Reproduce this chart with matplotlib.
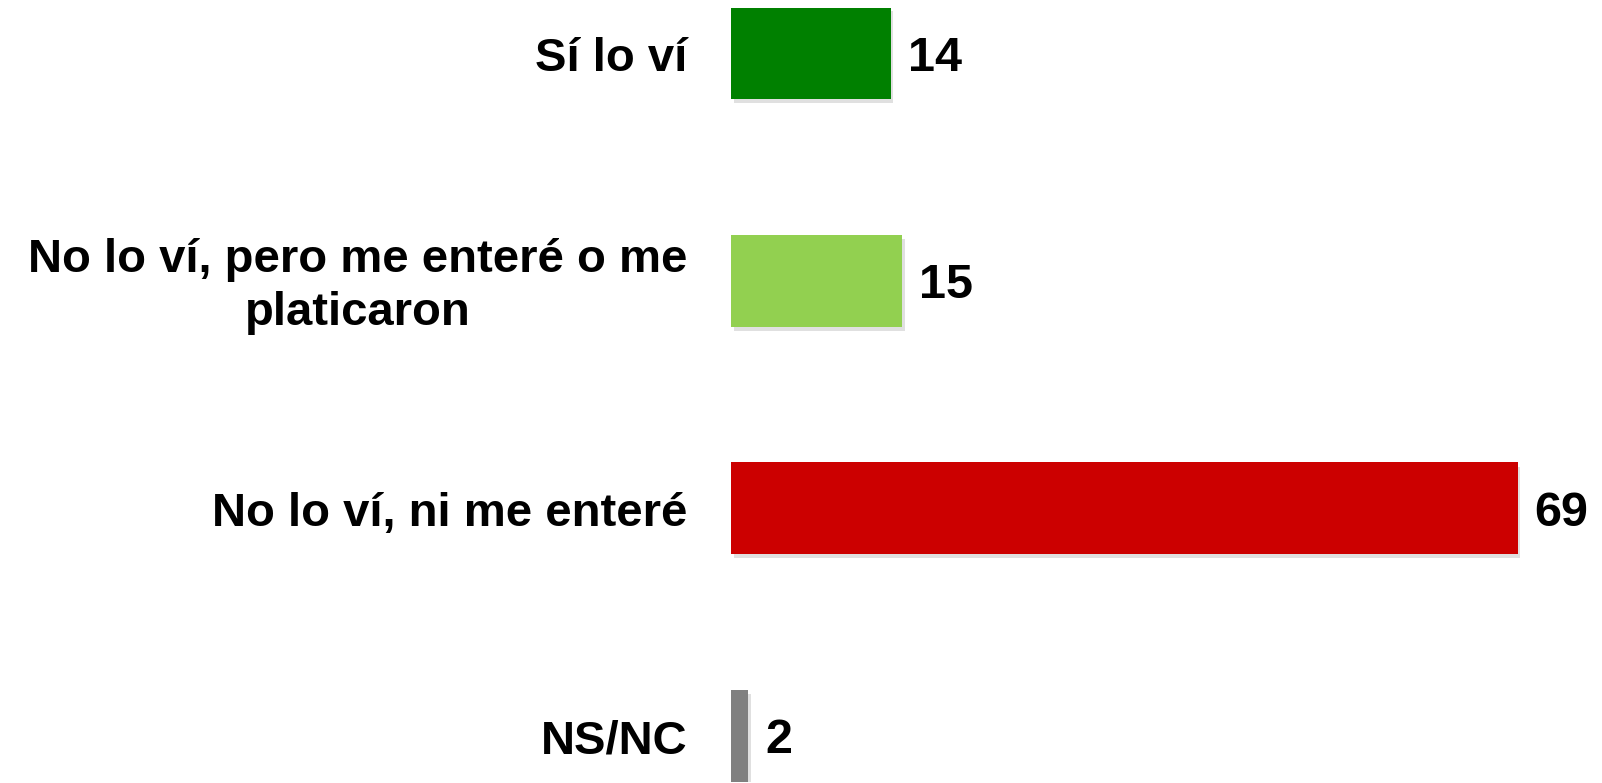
import matplotlib
matplotlib.use("Agg")
import matplotlib.pyplot as plt
import matplotlib.patheffects as pe

# -------------------------
# Data
# -------------------------

categories = [
    "Sí lo ví",
    "No lo ví, pero me enteré o me\nplaticaron",
    "No lo ví, ni me enteré",
    "NS/NC",
]
values = [14, 15, 69, 1.5]
colors = ["#008000", "#92D050", "#CC0000", "#808080"]

plt.rcParams["font.family"] = ["Liberation Sans", "DejaVu Sans"]
plt.rcParams["font.weight"] = "bold"

fig = plt.figure(figsize=(16.02, 7.83), dpi=100)
ax = fig.add_axes([731 / 1602, 1.5 / 783, 855 / 1602, 774 / 783])

ypos = list(range(len(categories)))
bars = ax.barh(ypos, values, height=0.404, color=colors)

for b in bars:
    b.set_path_effects([
        pe.SimplePatchShadow(offset=(2, -3), shadow_rgbFace="#000000", alpha=0.12),
        pe.Normal(),
    ])

# value labels, nudged down a little to sit on the bar centre
for y, v in zip(ypos, values):
    ax.text(v + 1.5, y + 0.022, "%.0f" % v, va="center", ha="left",
            fontsize=35, fontweight="bold", color="black", clip_on=False)

for y, c in zip(ypos, categories):
    ax.text(-3.8, y + 0.025, c, va="center", ha="right", multialignment="center",
            fontsize=34, fontweight="bold", color="black",
            linespacing=1.28, clip_on=False)

ax.set_xlim(0, 75)
ax.set_ylim(3.2, -0.2)
ax.axis("off")

fig.savefig("out.png", dpi=100)
